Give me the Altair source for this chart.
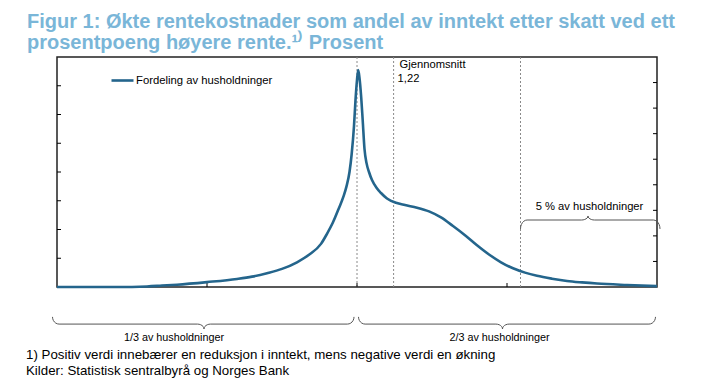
import math
import altair as alt
import pandas as pd

# ---------------- data ----------------
effekt = [-10, -8, -7, -6.5, -6, -5, -4, -3.5, -3, -2.5, -2, -1.6, -1.2, -1.0, -0.8,
          -0.6, -0.45, -0.35, -0.25, -0.18, -0.1, -0.05, 0.0, 0.04, 0.08, 0.14, 0.19,
          0.25, 0.32, 0.4, 0.5, 0.65, 0.8, 1.0, 1.3, 1.6, 2.0, 2.4, 2.8, 3.2, 3.6, 4.0,
          4.4, 4.8, 5.2, 5.6, 6.0, 6.5, 7.0, 7.5, 8.0, 9.0, 10.0]
andel = [0.0, 0.0, 0.02, 0.05, 0.08, 0.17, 0.28, 0.36, 0.48, 0.63, 0.86, 1.12, 1.5,
         1.85, 2.25, 2.75, 3.15, 3.5, 4.0, 4.6, 5.6, 6.5, 7.2, 7.55, 7.3, 6.6, 5.8,
         4.8, 4.3, 4.0, 3.72, 3.45, 3.27, 3.08, 2.93, 2.85, 2.76, 2.63, 2.42, 2.12,
         1.8, 1.45, 1.13, 0.86, 0.65, 0.5, 0.39, 0.29, 0.21, 0.16, 0.12, 0.07, 0.03]
serie = "Fordeling av husholdninger"

ref_linjer = [0.0, 1.22, 5.45]
snitt_tekst = ["Gjennomsnitt", "1,22"]
x_verdier = [-10, -5, 0, 5, 10]
x_tikk = [-5, 0, 5]
venstre_tikk = [1, 2, 3, 4, 5, 6, 7]
hoyre_tikk = [1, 2, 3, 4, 5, 6, 7, 8]

klammer_fra = [-10.15, 0.05, 5.45]
klammer_til = [-0.1, 9.95, 10.1]
klammer_tupp = [-5.1, 4.85, 7.7]
klammer_tekst = ["1/3 av husholdninger", "2/3 av husholdninger", "5  % av husholdninger"]
klammer_tekst_x = [-6.1, 4.75, 7.75]

tittel = ["Figur 1: Økte rentekostnader som andel av inntekt etter skatt ved ett",
          "prosentpoeng høyere rente.¹⁾ Prosent"]
fotnoter = ["1) Positiv verdi innebærer en reduksjon i inntekt, mens negative verdi en økning",
            "Kilder: Statistisk sentralbyrå og Norges Bank"]

# ---------------- style ----------------
W, H = 600, 230
FONT = "Liberation Sans, Arial, sans-serif"
LINE = "#24658c"
TITLE_C = "#7ab6d8"
GRAY = "#8a8a8a"

xscale = alt.Scale(domain=[-10, 10], nice=False, zero=False)
yscale = alt.Scale(domain=[0, 8], nice=False, zero=False)
yscale_r = alt.Scale(domain=[0, 9], nice=False, zero=False)

df = pd.DataFrame({"effekt": effekt, "andel": andel, "serie": serie})

# brace geometry (levels in y units of the main scale)
def klammer(x0, x1, xm, y_end, y_mid, y_tip, r, gid):
    pts = []
    n = 6
    for i in range(n + 1):
        t = i / n * math.pi / 2
        pts.append((x0 + r * (1 - math.cos(t)), y_end + (y_mid - y_end) * math.sin(t)))
    for i in range(n + 1):
        t = i / n * math.pi / 2
        pts.append((xm - r + r * math.sin(t), y_mid + (y_tip - y_mid) * (1 - math.cos(t))))
    for i in range(n + 1):
        t = i / n * math.pi / 2
        pts.append((xm + r - r * math.cos(t), y_tip + (y_mid - y_tip) * math.sin(t)))
    for i in range(n + 1):
        t = i / n * math.pi / 2
        pts.append((x1 - r + r * math.sin(t), y_mid + (y_end - y_mid) * (1 - math.cos(t))))
    return [{"x": p[0], "y": p[1], "ord": k, "g": gid} for k, p in enumerate(pts)]

rows = []
nivaa = [(-1.04, -1.29, -1.46), (-1.04, -1.29, -1.46), (2.02, 2.33, 2.47)]
for i in range(3):
    ye, ym, yt = nivaa[i]
    rows += klammer(klammer_fra[i], klammer_til[i], klammer_tupp[i], ye, ym, yt, 0.22, i)
df_kl = pd.DataFrame(rows)

base_x_noaxis = lambda f: alt.X(f, scale=xscale, axis=None)

curve = alt.Chart(df).mark_line(strokeWidth=2.6, interpolate="monotone").encode(
    x=alt.X("effekt:Q", scale=xscale,
            axis=alt.Axis(values=x_verdier, ticks=False, domain=False, grid=False,
                          labelFont=FONT, labelFontSize=11, labelColor="black",
                          labelPadding=5, labelFlush=False,
                          title="Effekt på inntekt etter skatt. Prosent",
                          titleFont=FONT, titleFontSize=10.8, titleFontWeight="normal",
                          titleColor="black", titlePadding=0)),
    y=alt.Y("andel:Q", scale=yscale, axis=None),
    color=alt.Color("serie:N", scale=alt.Scale(range=[LINE]),
                    legend=alt.Legend(orient="none", legendX=53, legendY=11, title=None,
                                      symbolType="stroke", symbolStrokeWidth=2.6,
                                      symbolSize=484, labelFont=FONT, labelFontSize=11.3,
                                      labelColor="black", labelOffset=1, padding=0)),
)

refs = alt.Chart(pd.DataFrame({"x": ref_linjer})).mark_rule(
    color=GRAY, strokeDash=[2, 2], strokeWidth=1).encode(x=base_x_noaxis("x:Q"))

snitt1 = alt.Chart(pd.DataFrame({"x": [ref_linjer[1]], "t": [snitt_tekst[0]]})).mark_text(
    align="left", baseline="middle", dx=6, font=FONT, fontSize=11.2, color="black").encode(
    x=base_x_noaxis("x:Q"), y=alt.value(8), text="t:N")
snitt2 = alt.Chart(pd.DataFrame({"x": [ref_linjer[1]], "t": [snitt_tekst[1]]})).mark_text(
    align="left", baseline="middle", dx=4, font=FONT, fontSize=11.2, color="black").encode(
    x=base_x_noaxis("x:Q"), y=alt.value(22), text="t:N")

braces = alt.Chart(df_kl).mark_line(color="#555", strokeWidth=1).encode(
    x=base_x_noaxis("x:Q"), y=alt.Y("y:Q", scale=yscale, axis=None),
    detail="g:N", order="ord:Q")

df_kt = pd.DataFrame({"x": klammer_tekst_x, "t": klammer_tekst})
brace_lbl_low = alt.Chart(df_kt.iloc[:2]).mark_text(
    baseline="middle", font=FONT, fontSize=10.8, color="black").encode(
    x=base_x_noaxis("x:Q"), y=alt.value(281), text="t:N")
brace_lbl_hi = alt.Chart(df_kt.iloc[2:]).mark_text(
    baseline="middle", font=FONT, fontSize=11.2, color="black").encode(
    x=base_x_noaxis("x:Q"), y=alt.value(150), text="t:N")

tick_l = alt.Chart(pd.DataFrame({"v": venstre_tikk})).mark_rule(color="black").encode(
    y=alt.Y("v:Q", scale=yscale, axis=None), x=alt.value(0), x2=alt.value(4))
tick_r = alt.Chart(pd.DataFrame({"v": hoyre_tikk})).mark_rule(color="black").encode(
    y=alt.Y("v:Q", scale=yscale_r, axis=None), x=alt.value(W - 4), x2=alt.value(W))
tick_b = alt.Chart(pd.DataFrame({"v": x_tikk})).mark_rule(color="black").encode(
    x=base_x_noaxis("v:Q"), y=alt.value(H - 4), y2=alt.value(H))

fn1 = alt.Chart(pd.DataFrame({"t": [fotnoter[0]]})).mark_text(
    align="left", baseline="middle", font=FONT, fontSize=13.3, color="black").encode(
    x=alt.value(-31), y=alt.value(298), text="t:N")
fn2 = alt.Chart(pd.DataFrame({"t": [fotnoter[1]]})).mark_text(
    align="left", baseline="middle", font=FONT, fontSize=13.3, color="black").encode(
    x=alt.value(-31), y=alt.value(314), text="t:N")

chart = alt.layer(
    refs, tick_l, tick_r, tick_b, braces, curve, snitt1, snitt2,
    brace_lbl_low, brace_lbl_hi, fn1, fn2
).resolve_scale(y="independent").properties(
    width=W, height=H,
    autosize=alt.AutoSizeParams(type="none"),
    padding={"left": 49, "top": 49, "right": 36, "bottom": 93},
    title=alt.Title(tittel, anchor="start", frame="group", dx=-30, font=FONT,
                    fontSize=20, fontWeight="bold", color=TITLE_C, lineHeight=21,
                    offset=4),
).configure_view(stroke="#222", strokeWidth=1.5)

chart.save("out.html", embed_options={"renderer": "svg", "actions": False})
